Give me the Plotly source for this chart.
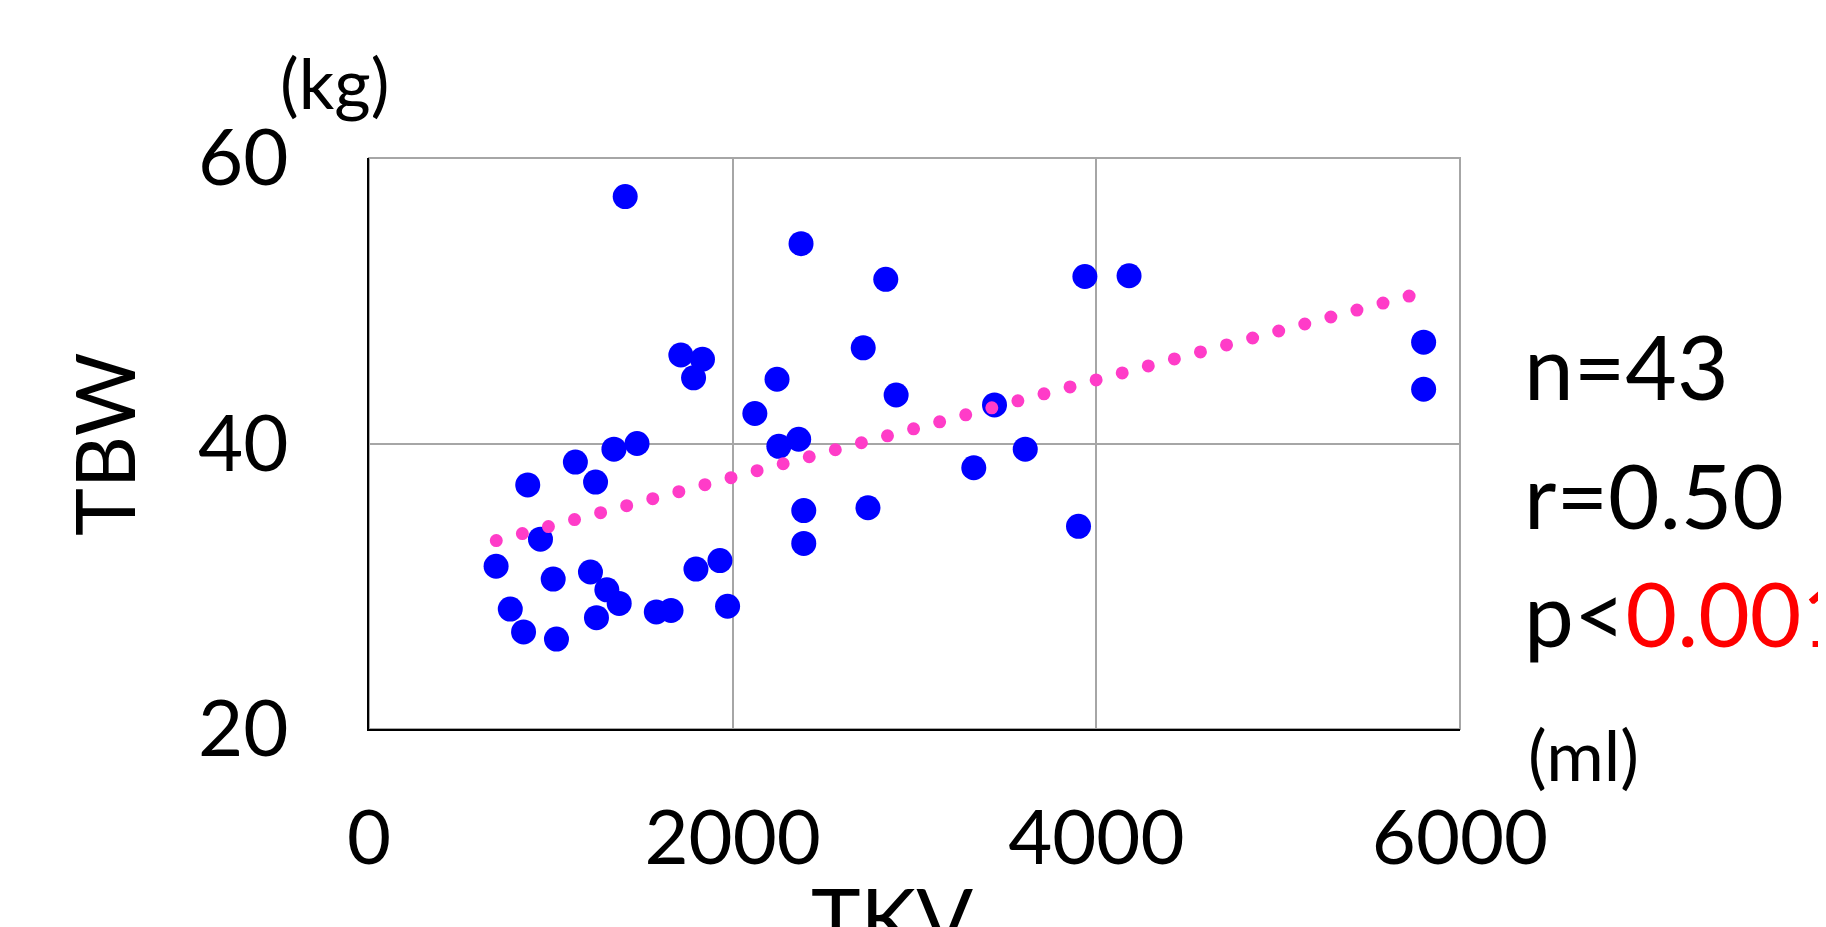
import plotly.graph_objects as go

# TKV (ml) and TBW (kg) values
tkv = [1409, 2376, 2842, 3937, 1715, 1834, 1785, 2718, 2244, 2122,
       2899, 3440, 2254, 2363, 1347, 1474, 1135, 873, 1246, 3609,
       3326, 2391, 2744, 3902, 2391, 943, 699, 1013, 1218, 1308,
       1376, 1798, 1930, 1972, 1580, 1661, 1251, 777, 850, 1031,
       4180, 5800, 5800]
tbw = [57.3, 54.0, 51.5, 51.7, 46.2, 45.9, 44.6, 46.7, 44.5, 42.1,
       43.4, 42.7, 39.8, 40.3, 39.6, 40.0, 38.7, 37.1, 37.3, 39.6,
       38.3, 35.3, 35.5, 34.2, 33.0, 33.3, 31.4, 30.5, 31.0, 29.75,
       28.8, 31.2, 31.8, 28.6, 28.2, 28.3, 27.8, 28.4, 26.8, 26.3,
       51.75, 47.1, 43.8]

trend_x = [700, 5800]
trend_y = [33.2, 50.6]

x_ticks = [0, 2000, 4000, 6000]
y_ticks = [20, 40, 60]

FONT = "Lato"

fig = go.Figure()
fig.add_trace(go.Scatter(x=tkv, y=tbw, mode="markers",
                         marker=dict(color="#0000FF", size=25, line=dict(width=0)),
                         showlegend=False, hoverinfo="skip"))
fig.add_trace(go.Scatter(x=trend_x, y=trend_y, mode="lines",
                         line=dict(color="#FF3CC8", width=13, dash="0px,27px"),
                         showlegend=False, hoverinfo="skip"))

L, R, T, B = 361, 1452, 150, 721
W, H = 1826, 927
pw, ph = R - L, B - T

def px(x):
    return (x - L) / pw

def py(y):
    return (B - y) / ph

fig.update_layout(
    width=W, height=H,
    margin=dict(l=L, r=W - R, t=T, b=H - B, pad=0),
    paper_bgcolor="white", plot_bgcolor="white",
    font=dict(family=FONT, color="black"),
    xaxis=dict(range=[0, 6000], tickvals=x_ticks, ticktext=[str(v) for v in x_ticks],
               showgrid=True, gridcolor="#A6A6A6", gridwidth=2,
               showline=True, linecolor="black", linewidth=2,
               zeroline=False, ticks="", tickfont=dict(size=76, family=FONT),
               ticklabelstandoff=42),
    yaxis=dict(range=[20, 60], tickvals=y_ticks, ticktext=[str(v) for v in y_ticks],
               showgrid=True, gridcolor="#A6A6A6", gridwidth=2,
               showline=True, linecolor="black", linewidth=2,
               zeroline=False, ticks="", tickfont=dict(size=78, family=FONT),
               ticklabelstandoff=63),
)

fig.add_shape(type="rect", xref="paper", yref="paper", x0=0, x1=1, y0=0, y1=1,
              line=dict(color="#A6A6A6", width=2), layer="below")

ann = [
    dict(text="TBW", x=px(95), y=py(436), textangle=-90, font=dict(size=81),
         xanchor="center", yanchor="middle"),
    dict(text="TKV", x=px(884), y=py(856), font=dict(size=84),
         xanchor="center", yanchor="top"),
    dict(text="(kg)", x=px(326), y=py(74), font=dict(size=70),
         xanchor="center", yanchor="middle"),
    dict(text="(ml)", x=px(1518), y=py(746), font=dict(size=70),
         xanchor="left", yanchor="middle"),
    dict(text="n=43", x=px(1514), y=py(357), font=dict(size=89),
         xanchor="left", yanchor="middle"),
    dict(text="r=0.50", x=px(1514), y=py(486), font=dict(size=89),
         xanchor="left", yanchor="middle"),
    dict(text="p<<span style='color:#FF0000'>0.001</span>", x=px(1514), y=py(604),
         font=dict(size=89), xanchor="left", yanchor="middle"),
]
for a in ann:
    a.update(xref="paper", yref="paper", showarrow=False)
    a["font"].update(family=FONT, color="black")
    fig.add_annotation(**a)

post = """
var gd = document.getElementById('{plot_id}');
function roundCaps(){
  var traces = gd.querySelectorAll('.scatterlayer .trace');
  if (traces.length > 1) {
    traces[1].querySelectorAll('path.js-line').forEach(function(p){
      p.style.strokeLinecap = 'round';
    });
  }
}
roundCaps();
gd.on && gd.on('plotly_afterplot', roundCaps);
"""

fig.write_html("out.html", post_script=post)
